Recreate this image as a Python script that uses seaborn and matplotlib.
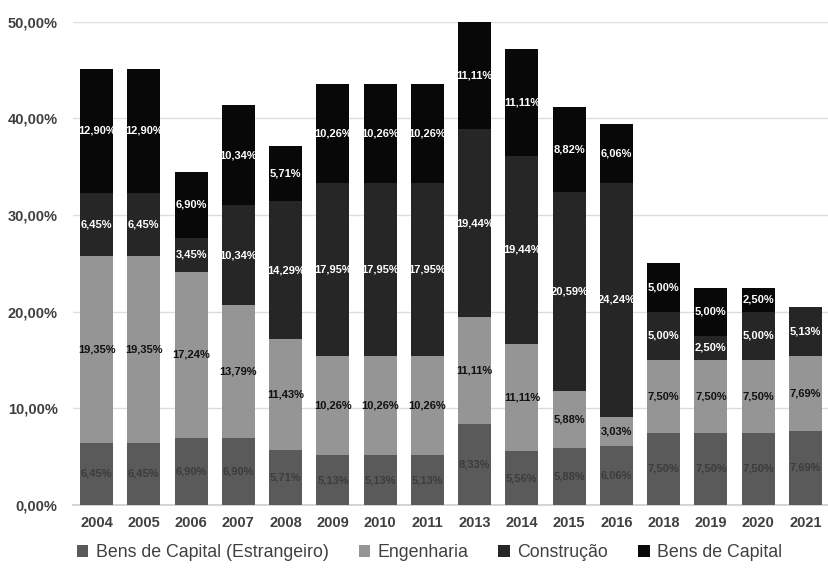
import matplotlib
matplotlib.use("Agg")
import matplotlib.pyplot as plt
import seaborn as sns
import pandas as pd
import numpy as np
from matplotlib.patches import Patch

years = ["2004", "2005", "2006", "2007", "2008", "2009", "2010", "2011",
         "2013", "2014", "2015", "2016", "2018", "2019", "2020", "2021"]
bens_estrangeiro = [6.45, 6.45, 6.90, 6.90, 5.71, 5.13, 5.13, 5.13,
                    8.33, 5.56, 5.88, 6.06, 7.50, 7.50, 7.50, 7.69]
engenharia = [19.35, 19.35, 17.24, 13.79, 11.43, 10.26, 10.26, 10.26,
              11.11, 11.11, 5.88, 3.03, 7.50, 7.50, 7.50, 7.69]
construcao = [6.45, 6.45, 3.45, 10.34, 14.29, 17.95, 17.95, 17.95,
              19.44, 19.44, 20.59, 24.24, 5.00, 2.50, 5.00, 5.13]
bens_capital = [12.90, 12.90, 6.90, 10.34, 5.71, 10.26, 10.26, 10.26,
                11.11, 11.11, 8.82, 6.06, 5.00, 5.00, 2.50, 0.0]

series_names = ["Bens de Capital (Estrangeiro)", "Engenharia", "Construção", "Bens de Capital"]
series_vals = [bens_estrangeiro, engenharia, construcao, bens_capital]
colors = ["#5a5a5a", "#959595", "#262626", "#080808"]
label_colors = ["#3c3c3c", "#111111", "#ffffff", "#ffffff"]

sns.set_theme(style="white")
plt.rcParams["font.family"] = ["Liberation Sans", "DejaVu Sans"]

fig = plt.figure(figsize=(8.29, 5.70), dpi=100)
ax = fig.add_axes([0.088, 0.114, 0.912, 0.848])

vals = np.array(series_vals)
cum = np.cumsum(vals, axis=0)

# draw from top of stack downward so lower series overlay
for k in range(3, -1, -1):
    df = pd.DataFrame({"ano": years, "valor": cum[k]})
    sns.barplot(data=df, x="ano", y="valor", order=years, color=colors[k],
                saturation=1, width=0.7, ax=ax, linewidth=0, zorder=3)

# labels
for k in range(4):
    bottoms = cum[k] - vals[k]
    for i, y in enumerate(years):
        v = vals[k][i]
        if v <= 0:
            continue
        ax.text(i, bottoms[i] + v / 2, f"{v:.2f}%".replace(".", ","),
                ha="center", va="center", fontsize=8, fontweight="bold",
                color=label_colors[k], zorder=5)

ax.set_ylim(0, 50)
ax.set_xlim(-0.5, len(years) - 0.5)
ax.set_yticks(np.arange(0, 51, 10))
ax.set_yticklabels([f"{t:.2f}%".replace(".", ",") for t in np.arange(0, 51, 10)],
                   fontsize=10.5, fontweight="bold", color="#404040")
ax.tick_params(axis="x", labelsize=10.5, colors="#404040", length=0, pad=8)
ax.tick_params(axis="y", length=0, pad=11)
for lab in ax.get_xticklabels():
    lab.set_fontweight("bold")
ax.set_xlabel("")
ax.set_ylabel("")
ax.grid(axis="y", color="#dedede", linewidth=1, zorder=0)
ax.set_axisbelow(True)
for s in ["top", "right", "left"]:
    ax.spines[s].set_visible(False)
ax.spines["bottom"].set_color("#d0d0d0")

handles = [Patch(facecolor=c, edgecolor="none") for c in colors]
leg = fig.legend(handles, series_names, loc="lower center", ncol=4,
                 bbox_to_anchor=(0.518, -0.012), frameon=False, fontsize=12.8,
                 handlelength=0.65, handleheight=0.65, handletextpad=0.4,
                 columnspacing=1.7)
for t in leg.get_texts():
    t.set_color("#404040")

fig.savefig("out.png", dpi=100)
